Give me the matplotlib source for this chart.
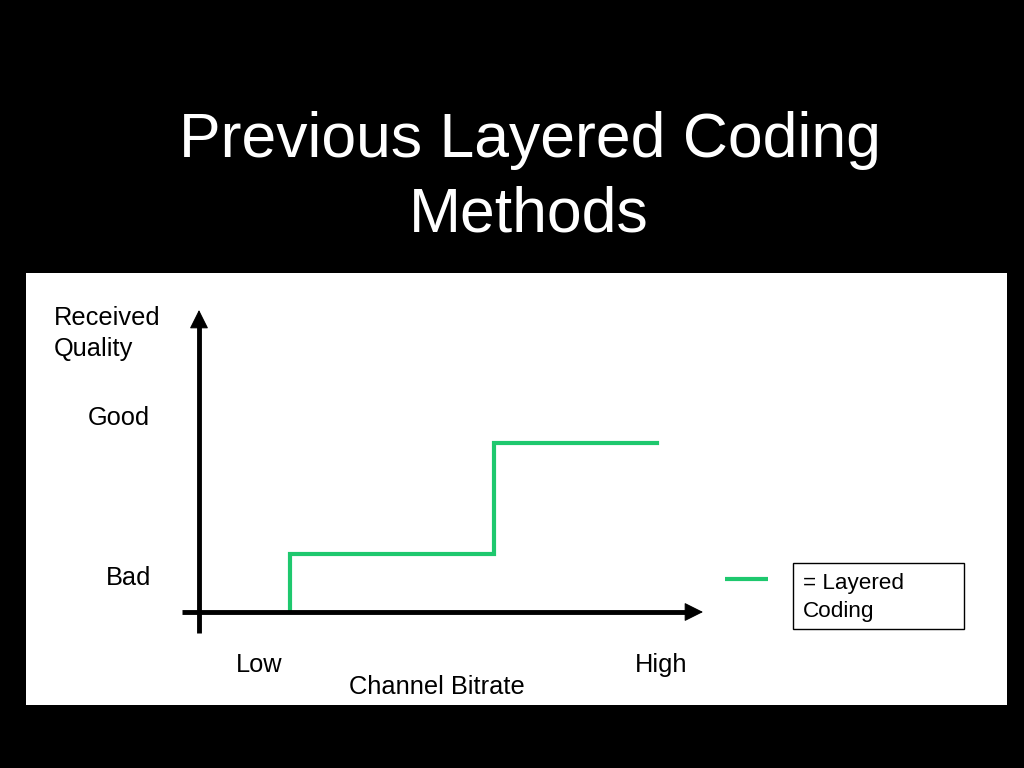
import matplotlib
matplotlib.use("Agg")
import matplotlib.pyplot as plt
from matplotlib.patches import Rectangle

plt.rcParams['font.family'] = ['Liberation Sans', 'DejaVu Sans']

# ---- data ----
title_lines = ["Previous Layered Coding", "Methods"]
bitrate = [0.90, 0.90, 2.94, 2.94, 4.57]      # channel bitrate (arbitrary units)
quality = [0.0, 0.58, 0.58, 1.69, 1.69]       # received quality (arbitrary units)
y_labels = ["Good", "Bad"]
x_labels = ["Low", "High"]
series_name = "= Layered\nCoding"
green = "#1ec86e"

W, H = 1024, 768
fig = plt.figure(figsize=(W / 100, H / 100), dpi=100, facecolor="black")

# background / layout axes in pixel coordinates
bg = fig.add_axes([0, 0, 1, 1])
bg.set_xlim(0, W)
bg.set_ylim(H, 0)
bg.axis("off")
bg.set_facecolor("black")
bg.add_patch(Rectangle((26, 273), 981, 432, facecolor="white", edgecolor="none"))

# title
bg.text(530, 141, title_lines[0], color="white", fontsize=45, ha="center", va="center")
bg.text(529, 215, title_lines[1], color="white", fontsize=45, ha="center", va="center")

fs = 18.3
# axis labels
bg.text(54, 318, "Received", fontsize=fs, ha="left", va="center", color="black")
bg.text(54, 349, "Quality", fontsize=fs, ha="left", va="center", color="black")
bg.text(88, 418, y_labels[0], fontsize=fs, ha="left", va="center", color="black")
bg.text(106, 578, y_labels[1], fontsize=fs, ha="left", va="center", color="black")
bg.text(236, 665, x_labels[0], fontsize=fs, ha="left", va="center", color="black")
bg.text(635, 665, x_labels[1], fontsize=fs, ha="left", va="center", color="black")
bg.text(349, 687, "Channel Bitrate", fontsize=fs, ha="left", va="center", color="black")

# legend
bg.add_patch(Rectangle((793, 563), 171, 66, facecolor="white", edgecolor="black", lw=1))
bg.plot([725, 768], [579, 579], color=green, lw=3, solid_capstyle="butt")
bg.text(803, 584, series_name.split("\n")[0], fontsize=16.2, ha="left", va="center", color="black")
bg.text(803, 611, series_name.split("\n")[1], fontsize=16.2, ha="left", va="center", color="black")

# data axes: origin at axis crossing (px 200, 612), 100 px per unit
x0, y0 = 200, 612
ax = fig.add_axes([x0 / W, (H - y0) / H, 500 / W, 300 / H])
ax.set_xlim(0, 5)
ax.set_ylim(0, 3)
ax.axis("off")
ax.patch.set_alpha(0)

ax.plot(bitrate, quality, color=green, lw=3, solid_joinstyle="miter", clip_on=False, zorder=3)

# axis shafts
ax.plot([-0.18, 4.95], [0, 0], color="black", lw=3.5, solid_capstyle="butt", clip_on=False, zorder=4)
ax.plot([-0.01, -0.01], [-0.21, 2.95], color="black", lw=3.5, solid_capstyle="butt", clip_on=False, zorder=4)
# arrow heads
head = dict(arrowstyle="-|>,head_length=0.7,head_width=0.35", lw=0.8, color="black",
            mutation_scale=17, shrinkA=0, shrinkB=0)
ax.annotate("", xy=(5.03, 0), xytext=(4.8, 0), arrowprops=head, annotation_clip=False, zorder=5)
ax.annotate("", xy=(-0.01, 3.02), xytext=(-0.01, 2.8), arrowprops=head, annotation_clip=False, zorder=5)

fig.savefig("out.png", dpi=100, facecolor="black")
